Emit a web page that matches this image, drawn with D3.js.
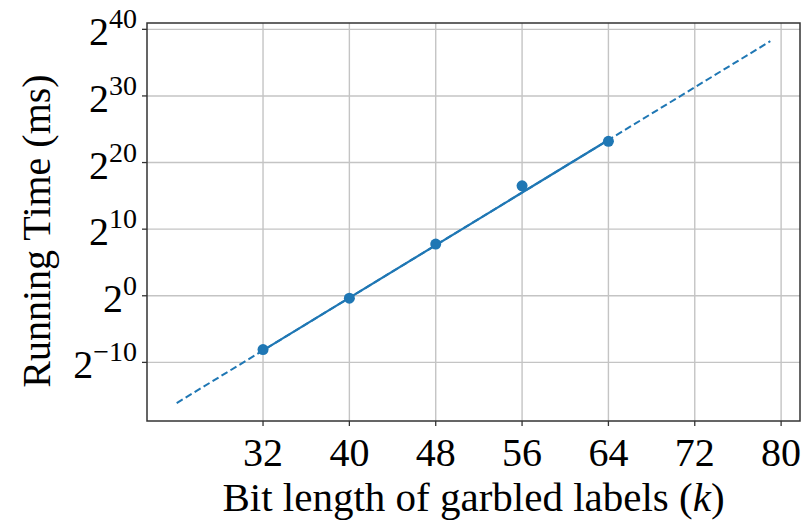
<!DOCTYPE html>
<html>
<head>
<meta charset="utf-8">
<script src="https://cdn.jsdelivr.net/npm/d3@7"></script>
<style>
  body { margin: 0; background: #fff; }
  svg text { font-family: "Liberation Serif", "DejaVu Serif", serif; fill: #000; }
</style>
</head>
<body>
<div id="chart"></div>
<script>
// bit length k and measured running time in ms
var bitLength = [32, 40, 48, 56, 64];
var runtimeMs = [0.0037, 0.78, 217, 92700, 9.6e6];

// droite ajustée : pointillée de 24 à 79, pleine entre 32 et 64
var fitBitLength = [24, 32, 64, 79];
var fitRuntimeMs = [1.42e-5, 0.0034, 1.1e7, 3.2e11];

var xTicks = [32, 40, 48, 56, 64, 72, 80];
var yTickExps = [-10, 0, 10, 20, 30, 40];

var width = 805;
var height = 520;
// zone du graphique (top est réservé par window, donc plotTop)
var plotLeft = 147, plotRight = 800, plotTop = 23, plotBottom = 421;
var blue = "#1f77b4";

var svg = d3.select("#chart").append("svg")
  .attr("width", width)
  .attr("height", height);

// x : 24..79 avec marge 5%
var x = d3.scaleLinear().domain([21.25, 81.75]).range([plotLeft, plotRight]);
var y = d3.scaleLog().base(2)
  .domain([Math.pow(2, -18.8), Math.pow(2, 40.95)])
  .range([plotBottom, plotTop]);

// grille
svg.append("g").selectAll("line")
  .data(xTicks).enter().append("line")
  .attr("x1", function (d) { return x(d); })
  .attr("x2", function (d) { return x(d); })
  .attr("y1", plotTop).attr("y2", plotBottom)
  .attr("stroke", "#c4c4c4").attr("stroke-width", 1.4);

svg.append("g").selectAll("line")
  .data(yTickExps).enter().append("line")
  .attr("x1", plotLeft).attr("x2", plotRight)
  .attr("y1", function (d) { return y(Math.pow(2, d)); })
  .attr("y2", function (d) { return y(Math.pow(2, d)); })
  .attr("stroke", "#c4c4c4").attr("stroke-width", 1.4);

// ticks
svg.append("g").selectAll("line")
  .data(xTicks).enter().append("line")
  .attr("x1", function (d) { return x(d); })
  .attr("x2", function (d) { return x(d); })
  .attr("y1", plotBottom).attr("y2", plotBottom + 5)
  .attr("stroke", "#333").attr("stroke-width", 1.3);

svg.append("g").selectAll("line")
  .data(yTickExps).enter().append("line")
  .attr("x1", plotLeft - 5).attr("x2", plotLeft)
  .attr("y1", function (d) { return y(Math.pow(2, d)); })
  .attr("y2", function (d) { return y(Math.pow(2, d)); })
  .attr("stroke", "#333").attr("stroke-width", 1.3);

// labels des ticks x
svg.append("g").selectAll("text")
  .data(xTicks).enter().append("text")
  .attr("x", function (d) { return x(d); })
  .attr("y", 466)
  .attr("text-anchor", "middle")
  .style("font-size", "40px")
  .text(function (d) { return d; });

// labels des ticks y : 2^n
var yLab = svg.append("g").selectAll("text")
  .data(yTickExps).enter().append("text")
  .attr("x", 137)
  .attr("y", function (d) { return y(Math.pow(2, d)) + 16; })
  .attr("text-anchor", "end");
yLab.append("tspan").style("font-size", "40px").text("2");
yLab.append("tspan")
  .attr("dy", -17)
  .style("font-size", "28px")
  .text(function (d) { return d < 0 ? "\u2212" + (-d) : d; });

var fitData = fitBitLength.map(function (k, i) { return { k: k, t: fitRuntimeMs[i] }; });
var data = bitLength.map(function (k, i) { return { k: k, t: runtimeMs[i] }; });

var line = d3.line()
  .x(function (d) { return x(d.k); })
  .y(function (d) { return y(d.t); });

// extrapolation pointillée
svg.append("path")
  .datum(fitData)
  .attr("d", line)
  .attr("fill", "none")
  .attr("stroke", blue)
  .attr("stroke-width", 2)
  .attr("stroke-dasharray", "7,3.5");

// partie pleine sur la plage mesurée
svg.append("path")
  .datum(fitData.slice(1, 3))
  .attr("d", line)
  .attr("fill", "none")
  .attr("stroke", blue)
  .attr("stroke-width", 2.2);

svg.selectAll("circle")
  .data(data).enter().append("circle")
  .attr("cx", function (d) { return x(d.k); })
  .attr("cy", function (d) { return y(d.t); })
  .attr("r", 5.5)
  .attr("fill", blue);

// cadre
svg.append("rect")
  .attr("x", plotLeft).attr("y", plotTop)
  .attr("width", plotRight - plotLeft).attr("height", plotBottom - plotTop)
  .attr("fill", "none")
  .attr("stroke", "#333")
  .attr("stroke-width", 1.5);

// titres des axes
var xt = svg.append("text")
  .attr("x", (plotLeft + plotRight) / 2)
  .attr("y", 511)
  .attr("text-anchor", "middle")
  .style("font-size", "41px");
xt.append("tspan").text("Bit length of garbled labels (");
xt.append("tspan").style("font-style", "italic").text("k");
xt.append("tspan").text(")");

svg.append("text")
  .attr("transform", "translate(50," + 231 + ") rotate(-90)")
  .attr("text-anchor", "middle")
  .style("font-size", "40px")
  .text("Running Time (ms)");
</script>
</body>
</html>
